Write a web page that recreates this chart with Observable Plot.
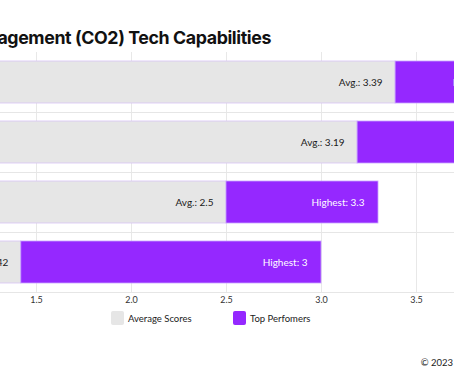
<!DOCTYPE html>
<html>
<head>
<meta charset="utf-8">
<script src="https://cdn.jsdelivr.net/npm/d3@7"></script>
<script src="https://cdn.jsdelivr.net/npm/@observablehq/plot@0.6"></script>
<style>
  html, body { margin: 0; padding: 0; background: #fff; }
  body { width: 454px; height: 379px; overflow: hidden; position: relative; font-family: Lato, "DejaVu Sans", sans-serif; }
  #title { position: absolute; right: 183px; top: 27px; white-space: nowrap; font-family: Inter, sans-serif; font-weight: 700; font-size: 17.8px; letter-spacing: -0.4px; color: #111; }
  #chart { position: absolute; top: 0; left: -249px; width: 950px; }
  #chart svg { max-width: none !important; }
  .leg { position: absolute; top: 311px; height: 14px; display: flex; align-items: center; font-size: 9.5px; color: #222; white-space: nowrap; }
  .sw { width: 13px; height: 14px; border-radius: 2px; margin-right: 4px; }
  #credit { position: absolute; right: 1px; top: 357px; font-size: 9.5px; color: #222; }
</style>
</head>
<body>
<div id="title">Carbon Management (CO2) Tech Capabilities</div>
<div id="chart"></div>
<div class="leg" style="left:111px"><div class="sw" style="background:#e6e6e6"></div>Average Scores</div>
<div class="leg" style="left:233px"><div class="sw" style="background:#9528ff"></div>Top Perfomers</div>
<div id="credit">© 2023</div>
<script>
const categories = ["Capability 1", "Capability 2", "Capability 3", "Capability 4"];
const avgScores = [3.39, 3.19, 2.5, 1.42];
const topScores = [4.0, 4.2, 3.3, 3.0];
const xTicks = [0, 0.5, 1.0, 1.5, 2.0, 2.5, 3.0, 3.5, 4.0, 4.5, 5.0];
const seriesNames = ["Average Scores", "Top Perfomers"];

const rows = categories.map((c, i) => ({cat: c, avg: avgScores[i], top: topScores[i]}));

const chart = Plot.plot({
  width: 950,
  height: 312,
  marginLeft: 0,
  marginRight: 0,
  marginTop: 52,
  marginBottom: 20,
  style: {fontFamily: "Lato, sans-serif", fontSize: "9px", color: "#333", background: "transparent", maxWidth: "none"},
  x: {domain: [0, 5]},
  y: {domain: categories, paddingInner: 0.3, paddingOuter: 0.15, axis: null},
  marks: [
    Plot.gridX(xTicks, {stroke: "#e8e8e8", strokeOpacity: 1}),
    Plot.gridY(categories, {stroke: "#e6e6e6", strokeOpacity: 1, dy: 30}),
    Plot.barX(rows, {y: "cat", x1: 0, x2: "avg", fill: "#e6e6e6", stroke: "#d7c4f5", strokeWidth: 0.8}),
    Plot.barX(rows, {y: "cat", x1: "avg", x2: "top", fill: "#9528ff", stroke: "#c9a3ff", strokeWidth: 0.8}),
    Plot.text(rows, {y: "cat", x: "avg", text: d => "Avg.: " + d.avg, textAnchor: "end", dx: -13, fill: "#1a1a1a", fontSize: 10}),
    Plot.text(rows, {y: "cat", x: "top", text: d => "Highest: " + d.top, textAnchor: "end", dx: -14, fill: "#fff", fontSize: 10}),
    Plot.axisX({ticks: xTicks, tickFormat: d3.format(".1f"), tickSize: 0, tickPadding: 4, fontSize: 9, fill: "#333"})
  ]
});
document.getElementById("chart").appendChild(chart);
</script>
</body>
</html>
